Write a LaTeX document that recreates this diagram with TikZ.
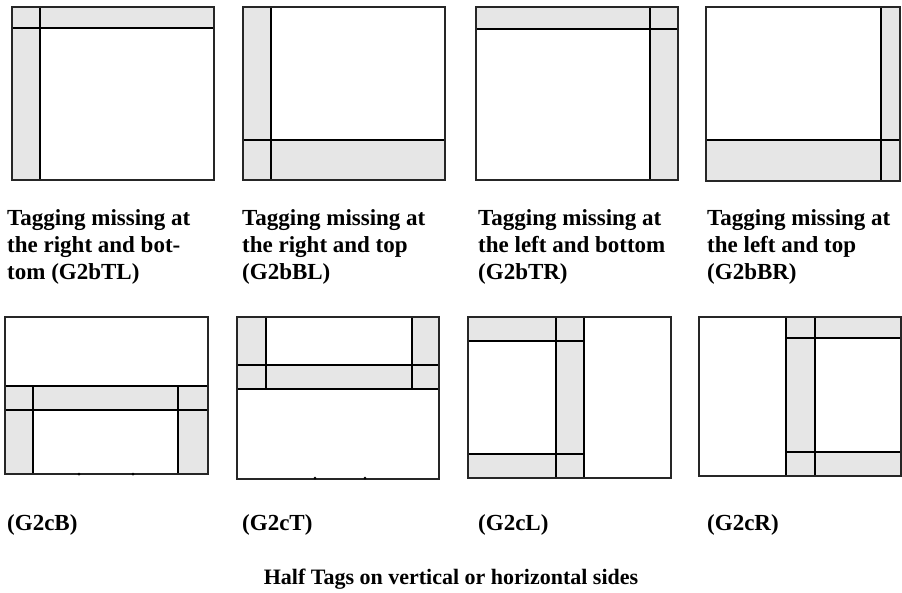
\documentclass[tikz,border=0pt]{standalone}
\usepackage{fontspec}
\setmainfont{Liberation Serif}
\definecolor{tagg}{HTML}{E6E6E6}
\tikzset{
  tagfill/.style={fill=tagg, draw=none},
  outerbox/.style={draw=black!85, line width=1.5pt},
  tagline/.style={draw=black, line width=2pt},
  lbl/.style={anchor=base west, inner sep=0pt, align=left, font=\bfseries\fontsize{23}{26.7}\selectfont},
  dotmark/.style={fill=black, draw=none}
}
\begin{document}
\begin{tikzpicture}[x=1pt, y=-1pt]
\useasboundingbox (0,0) rectangle (902,592);
% ---------- Panel 1 (G2bTL)
\fill[tagfill] (12,7) rectangle (214,28);
\fill[tagfill] (12,7) rectangle (40,180);
\draw[tagline] (12,28) -- (214,28);
\draw[tagline] (40,7) -- (40,180);
\draw[outerbox] (12,7) rectangle (214,180);
% ---------- Panel 2 (G2bBL)
\fill[tagfill] (243,7) rectangle (271,180);
\fill[tagfill] (243,140) rectangle (445,180);
\draw[tagline] (243,140) -- (445,140);
\draw[tagline] (271,7) -- (271,180);
\draw[outerbox] (243,7) rectangle (445,180);
% ---------- Panel 3 (G2bTR)
\fill[tagfill] (476,7) rectangle (678,29);
\fill[tagfill] (650,7) rectangle (678,180);
\draw[tagline] (476,29) -- (678,29);
\draw[tagline] (650,7) -- (650,180);
\draw[outerbox] (476,7) rectangle (678,180);
% ---------- Panel 4 (G2bBR)
\fill[tagfill] (881,7) rectangle (900,181);
\fill[tagfill] (706,140) rectangle (900,181);
\draw[tagline] (706,140) -- (900,140);
\draw[tagline] (881,7) -- (881,181);
\draw[outerbox] (706,7) rectangle (900,181);
% ---------- Panel 5 (G2cB)
\fill[tagfill] (5,386) rectangle (208,410);
\fill[tagfill] (5,386) rectangle (33,474);
\fill[tagfill] (178,386) rectangle (208,474);
\draw[tagline] (5,386) -- (208,386);
\draw[tagline] (5,410) -- (208,410);
\draw[tagline] (33,386) -- (33,474);
\draw[tagline] (178,386) -- (178,474);
\draw[outerbox] (5,317) rectangle (208,474);
\fill[dotmark] (79,474) circle (1.5);
\fill[dotmark] (133,474) circle (1.5);
% ---------- Panel 6 (G2cT)
\fill[tagfill] (237,365) rectangle (439,389);
\fill[tagfill] (237,317) rectangle (266,389);
\fill[tagfill] (412,317) rectangle (439,389);
\draw[tagline] (237,365) -- (439,365);
\draw[tagline] (237,389) -- (439,389);
\draw[tagline] (266,317) -- (266,389);
\draw[tagline] (412,317) -- (412,389);
\draw[outerbox] (237,317) rectangle (439,479);
\fill[dotmark] (315,478) circle (1.5);
\fill[dotmark] (365,478) circle (1.5);
% ---------- Panel 7 (G2cL)
\fill[tagfill] (556,317) rectangle (584,478);
\fill[tagfill] (468,317) rectangle (584,341);
\fill[tagfill] (468,454) rectangle (584,478);
\draw[tagline] (556,317) -- (556,478);
\draw[tagline] (584,317) -- (584,478);
\draw[tagline] (468,341) -- (584,341);
\draw[tagline] (468,454) -- (584,454);
\draw[outerbox] (468,317) rectangle (671,478);
% ---------- Panel 8 (G2cR)
\fill[tagfill] (786,317) rectangle (815,476);
\fill[tagfill] (786,317) rectangle (901,338);
\fill[tagfill] (786,452) rectangle (901,476);
\draw[tagline] (786,317) -- (786,476);
\draw[tagline] (815,317) -- (815,476);
\draw[tagline] (786,338) -- (901,338);
\draw[tagline] (786,452) -- (901,452);
\draw[outerbox] (699,317) rectangle (901,476);
% ---------- Labels (base anchor = baseline of last line)
\node[lbl] (l1) at (7,279) {Tagging missing at\\the right and bot-\\tom (G2bTL)};
\node[lbl] (l2) at (242,279) {Tagging missing at\\the right and top\\(G2bBL)};
\node[lbl] (l3) at (478,279) {Tagging missing at\\the left and bottom\\(G2bTR)};
\node[lbl] (l4) at (707,279) {Tagging missing at\\the left and top\\(G2bBR)};
\node[lbl] (l5) at (7,530) {(G2cB)};
\node[lbl] (l6) at (242,530) {(G2cT)};
\node[lbl] (l7) at (478,530) {(G2cL)};
\node[lbl] (l8) at (707,530) {(G2cR)};
\node[lbl, anchor=base, font=\bfseries\fontsize{22}{26}\selectfont] (cap) at (451,584) {Half Tags on vertical or horizontal sides};
\end{tikzpicture}
\end{document}
